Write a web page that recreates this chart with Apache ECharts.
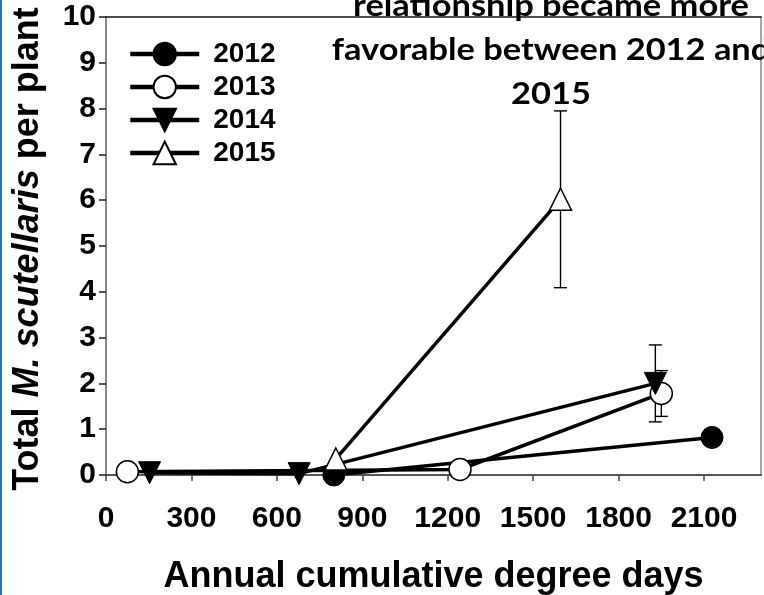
<!DOCTYPE html>
<html>
<head>
<meta charset="utf-8">
<script src="https://cdn.jsdelivr.net/npm/echarts@6/dist/echarts.min.js"></script>
<style>
  html, body { margin: 0; padding: 0; background: #fff; }
  #chart { width: 764px; height: 595px; }
</style>
</head>
<body>
<div id="chart"></div>
<script>
// Mean insects per plant against annual cumulative degree days, one line per year
const years = ['2012', '2013', '2014', '2015'];

const degreeDays2012 = [800, 2128];
const insects2012 = [0, 0.82];
const se2012 = [0, 0];

const degreeDays2013 = [75, 1243, 1950];
const insects2013 = [0.07, 0.12, 1.78];
const se2013 = [0, 0, 0.5];

const degreeDays2014 = [153, 678, 1929];
const insects2014 = [0.05, 0.03, 2.0];
const se2014 = [0, 0, 0.84];

const degreeDays2015 = [807, 1596];
const insects2015 = [0.35, 6.02];
const se2015 = [0, 1.93];

const xTicks = [0, 300, 600, 900, 1200, 1500, 1800, 2100];
const yTicks = [0, 1, 2, 3, 4, 5, 6, 7, 8, 9, 10];

const titleLines = ['relationship became more', 'favorable between 2012 and', '2015'];

const FONT = '"Liberation Sans", Arial, sans-serif';
const TITLE_FONT = 'Lato, "Open Sans", sans-serif';

function pairs(xs, ys) {
  return xs.map((x, i) => [x, ys[i]]);
}

function errorRows(xs, ys, es) {
  const rows = [];
  xs.forEach((x, i) => {
    if (es[i] > 0) rows.push([x, ys[i] - es[i], ys[i] + es[i]]);
  });
  return rows;
}

const errorData = []
  .concat(errorRows(degreeDays2012, insects2012, se2012))
  .concat(errorRows(degreeDays2013, insects2013, se2013))
  .concat(errorRows(degreeDays2014, insects2014, se2014))
  .concat(errorRows(degreeDays2015, insects2015, se2015));

const lineBase = {
  type: 'line',
  xAxisIndex: 0,
  yAxisIndex: 0,
  symbolSize: 22,
  lineStyle: { color: '#000', width: 3.5 },
  emphasis: { disabled: true },
  animation: false,
  z: 3
};

const plainNumber = function (v) { return String(v); };

const chart = echarts.init(document.getElementById('chart'), null, { renderer: 'canvas' });

chart.setOption({
  backgroundColor: '#ffffff',
  animation: false,
  grid: { left: 106, right: 3, top: 17, bottom: 120, containLabel: false, outerBoundsMode: 'none' },
  legend: {
    orient: 'vertical',
    left: 123,
    top: 35,
    itemWidth: 69,
    itemHeight: 28,
    itemGap: 5,
    data: years,
    lineStyle: { width: 4.5 },
    textStyle: { fontFamily: FONT, fontWeight: 'bold', fontSize: 28, color: '#000', padding: [0, 0, 0, 9] },
    selectedMode: false
  },
  xAxis: [{
    type: 'value',
    min: 0,
    max: 2300,
    interval: 300,
    position: 'bottom',
    name: 'Annual cumulative degree days',
    nameLocation: 'middle',
    nameGap: 84,
    nameTextStyle: { fontFamily: FONT, fontWeight: 'bold', fontSize: 36, color: '#000' },
    axisLine: { show: true, onZero: false, lineStyle: { color: '#222', width: 1.5 } },
    axisTick: { show: true, inside: false, length: 6, customValues: xTicks, lineStyle: { color: '#444', width: 1.5 } },
    axisLabel: { customValues: xTicks, formatter: plainNumber, margin: 29, fontFamily: FONT, fontWeight: 'bold', fontSize: 30, color: '#000' },
    splitLine: { show: false }
  }, {
    type: 'value',
    min: 0,
    max: 2300,
    position: 'top',
    axisLine: { show: true, onZero: false, lineStyle: { color: '#111', width: 1.5 } },
    axisTick: { show: false },
    axisLabel: { show: false },
    splitLine: { show: false }
  }],
  yAxis: [{
    type: 'value',
    min: 0,
    max: 10,
    interval: 1,
    position: 'left',
    name: '{a|Total }{b|M. scutellaris}{a| per plant}',
    nameLocation: 'middle',
    nameRotate: 90,
    nameGap: 60,
    nameTextStyle: {
      padding: [0, 6, 0, 0],
      rich: {
        a: { fontFamily: FONT, fontWeight: 'bold', fontSize: 36, color: '#000' },
        b: { fontFamily: FONT, fontWeight: 'bold', fontStyle: 'italic', fontSize: 36, color: '#000' }
      }
    },
    axisLine: { show: true, onZero: false, lineStyle: { color: '#888', width: 2 } },
    axisTick: { show: true, inside: false, length: 7, customValues: yTicks, lineStyle: { color: '#222', width: 1.5 } },
    axisLabel: { customValues: yTicks, formatter: plainNumber, margin: 10, fontFamily: FONT, fontWeight: 'bold', fontSize: 30, color: '#000' },
    splitLine: { show: false }
  }, {
    type: 'value',
    min: 0,
    max: 10,
    position: 'right',
    axisLine: { show: true, onZero: false, lineStyle: { color: '#888', width: 1.5 } },
    axisTick: { show: false },
    axisLabel: { show: false },
    splitLine: { show: false }
  }],
  series: [
    {
      type: 'custom',
      name: 'se',
      xAxisIndex: 0,
      yAxisIndex: 0,
      data: errorData,
      z: 2,
      silent: true,
      renderItem: function (params, api) {
        const top = api.coord([api.value(0), api.value(2)]);
        const bottom = api.coord([api.value(0), api.value(1)]);
        const half = 6.5;
        const style = { stroke: '#000', lineWidth: 1.4 };
        return {
          type: 'group',
          children: [
            { type: 'line', shape: { x1: top[0], y1: top[1], x2: bottom[0], y2: bottom[1] }, style: style },
            { type: 'line', shape: { x1: top[0] - half, y1: top[1], x2: top[0] + half, y2: top[1] }, style: style },
            { type: 'line', shape: { x1: bottom[0] - half, y1: bottom[1], x2: bottom[0] + half, y2: bottom[1] }, style: style }
          ]
        };
      }
    },
    Object.assign({}, lineBase, {
      name: '2012',
      data: pairs(degreeDays2012, insects2012),
      symbol: 'circle',
      itemStyle: { color: '#000', borderColor: '#000', borderWidth: 1 }
    }),
    Object.assign({}, lineBase, {
      name: '2013',
      data: pairs(degreeDays2013, insects2013),
      symbol: 'circle',
      itemStyle: { color: '#fff', borderColor: '#000', borderWidth: 1.5 }
    }),
    Object.assign({}, lineBase, {
      name: '2014',
      data: pairs(degreeDays2014, insects2014),
      symbol: 'triangle',
      symbolRotate: 180,
      itemStyle: { color: '#000', borderColor: '#000', borderWidth: 1 }
    }),
    Object.assign({}, lineBase, {
      name: '2015',
      data: pairs(degreeDays2015, insects2015),
      symbol: 'triangle',
      itemStyle: { color: '#fff', borderColor: '#000', borderWidth: 1.5 }
    })
  ],
  graphic: [
    { type: 'rect', x: 0, y: 0, shape: { width: 2, height: 595 }, style: { fill: '#1f74d6' }, silent: true, z: 100 }
  ].concat(titleLines.map(function (line, i) {
    return {
      type: 'text',
      x: 551,
      y: 5.5 + i * 44,
      scaleX: 1.11,
      silent: true,
      z: 50,
      style: {
        text: line,
        fill: '#000',
        font: 'bold 31px ' + TITLE_FONT,
        align: 'center',
        verticalAlign: 'middle'
      }
    };
  }))
});
</script>
</body>
</html>
